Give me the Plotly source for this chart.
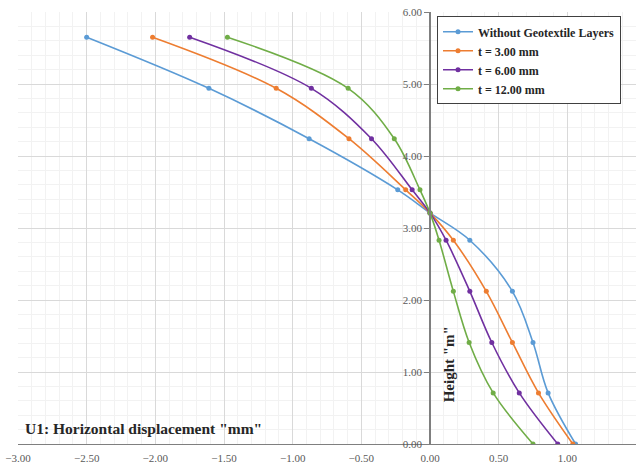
import plotly.graph_objects as go

heights = [0.00, 0.71, 1.41, 2.12, 2.83, 3.21, 3.53, 4.24, 4.94, 5.65]
without_geo = [1.06, 0.86, 0.75, 0.60, 0.29, 0.00, -0.235, -0.88, -1.61, -2.50]
t_3mm = [1.04, 0.79, 0.60, 0.41, 0.17, 0.00, -0.177, -0.59, -1.12, -2.02]
t_6mm = [0.93, 0.65, 0.45, 0.29, 0.117, 0.00, -0.13, -0.426, -0.864, -1.75]
t_12mm = [0.75, 0.46, 0.285, 0.17, 0.066, 0.00, -0.073, -0.26, -0.596, -1.475]

series_names = ["Without Geotextile Layers", "t = 3.00 mm", "t = 6.00 mm", "t = 12.00 mm"]
series_vals = [without_geo, t_3mm, t_6mm, t_12mm]
colors = ["#5B9BD5", "#ED7D31", "#7030A0", "#70AD47"]

fig = go.Figure()
for name, vals, c in zip(series_names, series_vals, colors):
    fig.add_trace(go.Scatter(
        x=vals, y=heights, name=name, mode="lines+markers",
        line=dict(color=c, width=1.6, shape="spline", smoothing=1.0),
        marker=dict(color=c, size=5),
    ))

serif = "Liberation Serif"
fig.update_layout(
    width=644, height=465,
    margin=dict(l=18, r=8, t=12, b=21),
    paper_bgcolor="white", plot_bgcolor="white",
    font=dict(family=serif, color="#595959"),
    showlegend=True,
    legend=dict(
        x=0.678, y=0.99, xanchor="left", yanchor="top",
        bgcolor="white", bordercolor="#404040", borderwidth=1,
        font=dict(family=serif, size=12, color="#262626", weight="bold"),
        itemwidth=30, tracegroupgap=0,
    ),
    xaxis=dict(
        range=[-3, 1.5], dtick=0.5, tick0=0, tickformat=".2f",
        showgrid=True, gridcolor="#D9D9D9", gridwidth=1,
        minor=dict(dtick=0.1, showgrid=True, gridcolor="#F2F2F2", gridwidth=1),
        showline=True, linecolor="#7F7F7F", linewidth=1,
        zeroline=False, ticks="", ticklabelstandoff=4, automargin=False,
        tickfont=dict(family=serif, size=11, color="#595959"),
        fixedrange=True,
    ),
    yaxis=dict(
        range=[0, 6], dtick=1, tickformat=".2f",
        showgrid=True, gridcolor="#D9D9D9", gridwidth=1,
        minor=dict(dtick=0.2, showgrid=True, gridcolor="#F2F2F2", gridwidth=1),
        showline=True, linecolor="#7F7F7F", linewidth=1.5,
        anchor="free", position=2/3, automargin=False,
        zeroline=False, ticks="outside", ticklen=5, tickcolor="#7F7F7F",
        tickfont=dict(family=serif, size=11, color="#595959"),
        fixedrange=True,
    ),
    annotations=[
        dict(text='U1: Horizontal displacement "mm"', x=-2.965, y=0.22,
             xref="x", yref="y", xanchor="left", yanchor="middle", showarrow=False,
             font=dict(family=serif, size=15.5, color="#262626", weight="bold")),
        dict(text='Height "m"', x=0.135, y=1.1, xref="x", yref="y",
             xanchor="center", yanchor="middle", textangle=-90, showarrow=False,
             font=dict(family=serif, size=15, color="#262626", weight="bold")),
    ],
)

fig.write_html("out.html")
